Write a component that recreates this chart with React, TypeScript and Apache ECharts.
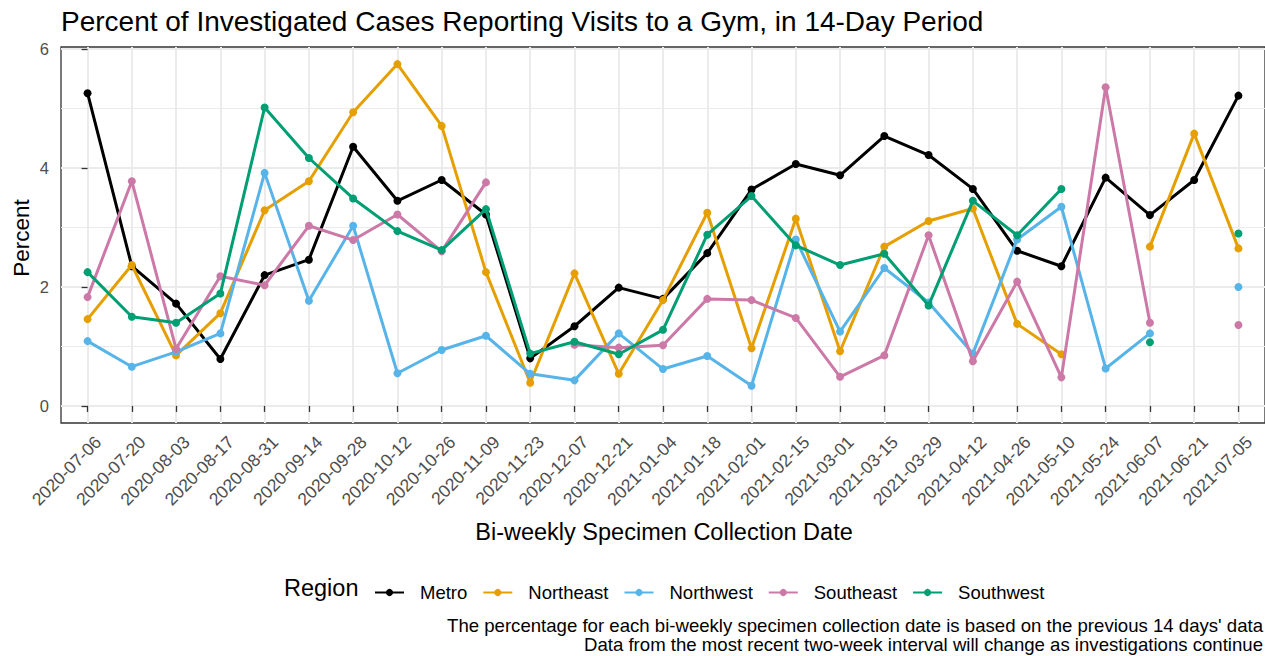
import React, { useEffect, useRef } from "react";
import * as echarts from "echarts";

const dates = [
  "2020-07-06", "2020-07-20", "2020-08-03", "2020-08-17", "2020-08-31", "2020-09-14",
  "2020-09-28", "2020-10-12", "2020-10-26", "2020-11-09", "2020-11-23", "2020-12-07",
  "2020-12-21", "2021-01-04", "2021-01-18", "2021-02-01", "2021-02-15", "2021-03-01",
  "2021-03-15", "2021-03-29", "2021-04-12", "2021-04-26", "2021-05-10", "2021-05-24",
  "2021-06-07", "2021-06-21", "2021-07-05",
];

const metro = [5.26, 2.35, 1.72, 0.79, 2.2, 2.46, 4.36, 3.45, 3.8, 3.22, 0.8, 1.34, 1.99, 1.8, 2.57, 3.64, 4.07, 3.88, 4.54, 4.22, 3.65, 2.61, 2.35, 3.84, 3.21, 3.8, 5.22];
const northeast = [1.46, 2.37, 0.85, 1.56, 3.29, 3.78, 4.94, 5.75, 4.71, 2.25, 0.39, 2.23, 0.54, 1.78, 3.25, 0.97, 3.15, 0.92, 2.68, 3.11, 3.32, 1.38, 0.87, null, 2.68, 4.58, 2.65];
const northwest = [1.09, 0.66, 0.91, 1.22, 3.92, 1.77, 3.03, 0.55, 0.94, 1.18, 0.54, 0.43, 1.22, 0.62, 0.84, 0.34, 2.8, 1.25, 2.32, 1.74, 0.88, 2.8, 3.35, 0.63, 1.22, null, 2.0];
const southeast = [1.83, 3.78, 0.96, 2.18, 2.03, 3.03, 2.79, 3.22, 2.6, 3.76, null, 1.03, 0.98, 1.02, 1.8, 1.78, 1.48, 0.49, 0.85, 2.87, 0.75, 2.09, 0.48, 5.36, 1.4, null, 1.36];
const southwest = [2.25, 1.5, 1.4, 1.89, 5.02, 4.17, 3.49, 2.94, 2.62, 3.31, 0.88, 1.08, 0.87, 1.28, 2.88, 3.53, 2.7, 2.37, 2.56, 1.69, 3.45, 2.87, 3.65, null, 1.07, null, 2.9];

const regions = ["Metro", "Northeast", "Northwest", "Southeast", "Southwest"];
const regionValues = [metro, northeast, northwest, southeast, southwest];
const colors = ["#000000", "#E69F00", "#56B4E9", "#CC79A7", "#009E73"];

const yMajor = [0, 2, 4, 6];
const yMinor = [1, 3, 5];

const titleText = "Percent of Investigated Cases Reporting Visits to a Gym, in 14-Day Period";
const xTitle = "Bi-weekly Specimen Collection Date";
const yTitle = "Percent";
const legendTitle = "Region";
const captions = [
  "The percentage for each bi-weekly specimen collection date is based on the previous 14 days' data",
  "Data from the most recent two-week interval will change as investigations continue",
];

const FONT = "'Liberation Sans', Arial, sans-serif";

export default function App() {
  const ref = useRef<HTMLDivElement>(null);
  useEffect(() => {
    if (!ref.current) return;
    const chart = echarts.init(ref.current, null, { renderer: "svg" });
    const idx = dates.map((_, i) => i);

    const gridSeries: any = {
      type: "line",
      name: "__grid",
      data: [],
      silent: true,
      z: 0,
      markLine: {
        silent: true,
        symbol: "none",
        label: { show: false },
        animation: false,
        z: 0,
        data: [
          ...yMinor.map((v) => ({ yAxis: v, lineStyle: { color: "#EBEBEB", width: 1.2, type: "solid" } })),
          ...yMajor.map((v) => ({ yAxis: v, lineStyle: { color: "#EBEBEB", width: 2, type: "solid" } })),
          ...idx.map((v) => ({ xAxis: v, lineStyle: { color: "#EBEBEB", width: 2, type: "solid" } })),
        ],
      },
    };

    const dataSeries = regions.map((name, k) => ({
      type: "line",
      name,
      z: 3 + k,
      data: regionValues[k].map((v, i) => [i, v === null ? null : v]),
      connectNulls: false,
      showSymbol: true,
      showAllSymbol: true,
      symbol: "circle",
      symbolSize: 8,
      itemStyle: { color: colors[k] },
      lineStyle: { color: colors[k], width: 3 },
      emphasis: { disabled: true },
    }));

    chart.setOption({
      animation: false,
      textStyle: { fontFamily: FONT },
      grid: {
        left: 61,
        top: 47,
        width: 1207,
        height: 376,
        show: true,
        borderColor: "#333333",
        borderWidth: 1.3,
        backgroundColor: "#ffffff",
        containLabel: false,
      },
      xAxis: {
        type: "value",
        min: -0.6,
        max: 26.6,
        splitLine: { show: false },
        axisLine: { show: false },
        axisTick: {
          show: true,
          customValues: idx,
          length: 6,
          lineStyle: { color: "#333333", width: 1.3 },
        },
        axisLabel: {
          customValues: idx,
          rotate: 45,
          fontSize: 17.5,
          color: "#4D4D4D",
          margin: 14,
          verticalAlign: "top",
          padding: [0, -6, 0, 0],
          fontFamily: FONT,
          formatter: (v: number) => dates[Math.round(v)] ?? "",
        },
      },
      yAxis: {
        type: "value",
        min: -0.2875,
        max: 6.0375,
        splitLine: { show: false },
        axisLine: { show: false },
        axisTick: {
          show: true,
          customValues: yMajor,
          length: 6,
          lineStyle: { color: "#333333", width: 1.3 },
        },
        axisLabel: {
          customValues: yMajor,
          fontSize: 16.5,
          color: "#4D4D4D",
          margin: 12,
          fontFamily: FONT,
        },
      },
      legend: {
        data: regions,
        left: 369,
        top: 578,
        itemWidth: 29,
        itemHeight: 9,
        itemGap: 15,
        textStyle: { fontSize: 18.5, color: "#000000", fontFamily: FONT, padding: [0, 0, 0, 11] },
        selectedMode: false,
      },
      graphic: [
        {
          type: "text",
          x: 61,
          y: 21,
          style: { text: titleText, fontSize: 28, fill: "#000000", fontFamily: FONT, align: "left", verticalAlign: "middle" },
        },
        {
          type: "text",
          x: 21,
          y: 238,
          rotation: Math.PI / 2,
          style: { text: yTitle, fontSize: 22.5, fill: "#000000", fontFamily: FONT, align: "center", verticalAlign: "middle" },
        },
        {
          type: "text",
          x: 664,
          y: 532,
          style: { text: xTitle, fontSize: 23.5, fill: "#000000", fontFamily: FONT, align: "center", verticalAlign: "middle" },
        },
        {
          type: "text",
          x: 284,
          y: 588,
          style: { text: legendTitle, fontSize: 23.5, fill: "#000000", fontFamily: FONT, align: "left", verticalAlign: "middle" },
        },
        {
          type: "text",
          x: 1263,
          y: 625,
          style: { text: captions[0], fontSize: 18.6, fill: "#000000", fontFamily: FONT, align: "right", verticalAlign: "middle" },
        },
        {
          type: "text",
          x: 1263,
          y: 644,
          style: { text: captions[1], fontSize: 18.6, fill: "#000000", fontFamily: FONT, align: "right", verticalAlign: "middle" },
        },
      ],
      series: [gridSeries, ...dataSeries],
    });
    return () => chart.dispose();
  }, []);

  return (
    <div
      ref={ref}
      style={{ width: 1265, height: 656, position: "absolute", left: 0, top: 0, background: "#ffffff" }}
    />
  );
}
